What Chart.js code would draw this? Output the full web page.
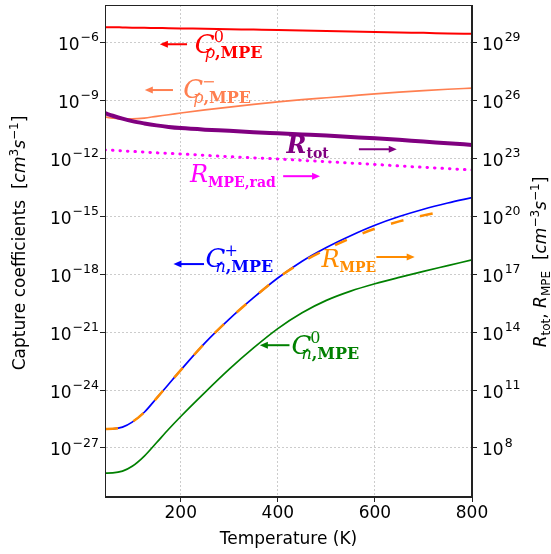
<!DOCTYPE html>
<html>
<head>
<meta charset="utf-8">
<script src="https://cdn.jsdelivr.net/npm/chart.js@4.4.0/dist/chart.umd.min.js"></script>
<style>
  html, body { margin: 0; padding: 0; background: #fff; }
</style>
</head>
<body>
<canvas id="chart" width="551" height="554"></canvas>
<script>
// temperatures (K) and log10 of each curve
const temps = [44, 60, 80, 100, 125, 150, 175, 200, 250, 300, 350, 400, 450, 500, 550, 600, 650, 700, 750, 800];

// left axis, cm^3 s^-1
const cpNeutralExp = [-5.22, -5.22, -5.23, -5.24, -5.25, -5.26, -5.27, -5.28, -5.30, -5.32, -5.34, -5.36, -5.39, -5.41, -5.44, -5.46, -5.49, -5.51, -5.54, -5.56];
const cpMinusExp = [-9.86, -9.92, -9.96, -9.96, -9.92, -9.83, -9.75, -9.66, -9.50, -9.35, -9.21, -9.08, -8.97, -8.87, -8.77, -8.67, -8.58, -8.50, -8.43, -8.37];
const cnPlusExp = [-26.02, -26.01, -25.92, -25.66, -25.15, -24.43, -23.70, -22.97, -21.56, -20.33, -19.22, -18.20, -17.33, -16.62, -16.01, -15.47, -15.02, -14.64, -14.32, -14.04];
const cnNeutralExp = [-28.30, -28.29, -28.20, -27.95, -27.42, -26.73, -26.03, -25.37, -24.12, -22.92, -21.82, -20.82, -20.00, -19.36, -18.88, -18.50, -18.17, -17.86, -17.56, -17.26];

// right axis, cm^-3 s^-1
const rTotExp = [25.33, 25.20, 25.05, 24.92, 24.80, 24.70, 24.62, 24.56, 24.48, 24.42, 24.35, 24.29, 24.23, 24.17, 24.10, 24.03, 23.95, 23.86, 23.78, 23.69];
const rRadExp = [23.43, 23.41, 23.38, 23.35, 23.32, 23.28, 23.25, 23.22, 23.15, 23.08, 23.02, 22.96, 22.89, 22.82, 22.75, 22.68, 22.60, 22.53, 22.46, 22.39];
const rMpeExp = [8.98, 8.99, 9.08, 9.34, 9.85, 10.57, 11.30, 12.03, 13.44, 14.67, 15.78, 16.80, 17.62, 18.28, 18.86, 19.35, 19.73, 20.04, 20.30, null];

const xTicks = [200, 400, 600, 800];
const leftTickExps = [-27, -24, -21, -18, -15, -12, -9, -6];
const rightTickExps = [8, 11, 14, 17, 20, 23, 26, 29];

const SANS = '"DejaVu Sans"';
const SERIF = '"DejaVu Serif"';

function pts(exps) {
    return temps.map((t, i) => ({ x: t, y: exps[i] === null ? null : Math.pow(10, exps[i]) }));
}

// curve labels: text anchor (T, left-axis exponent) and arrow tail -> head
const notes = [
    { color: "#ff0000", t: 229, e: -6.57, nuc: "C", sup: "0", sub: [["p", "i"], [",MPE", "b"]],
      arrow: [213, -6.10, 157, -6.10] },
    { color: "#ff7f50", t: 205, e: -8.90, nuc: "C", sup: "\u2212", sub: [["p", "i"], [",MPE", "b"]],
      arrow: [184, -8.47, 126, -8.47] },
    { color: "#800080", t: 418, e: -11.75, nuc: "R", bold: true, sub: [["tot", "b"]],
      arrow: [567, -11.53, 645, -11.53] },
    { color: "#ff00ff", t: 219, e: -13.22, nuc: "R", sub: [["MPE,rad", "b"]],
      arrow: [411, -12.93, 487, -12.93] },
    { color: "#0000ff", t: 251, e: -17.62, nuc: "C", sup: "+", sub: [["n", "i"], [",MPE", "b"]],
      arrow: [248, -17.48, 185, -17.48] },
    { color: "#ff8c00", t: 490, e: -17.62, nuc: "R", sub: [["MPE", "b"]],
      arrow: [603, -17.11, 682, -17.11] },
    { color: "#008000", t: 428, e: -22.11, nuc: "C", sup: "0", sub: [["n", "i"], [",MPE", "b"]],
      arrow: [424, -21.68, 363, -21.68] }
];

function supStr(n) {
    return String(n).replace("-", "\u2212");
}

function drawPow(ctx, exp, x, y, align) {
    ctx.font = "17px " + SANS;
    const wb = ctx.measureText("10").width;
    ctx.font = "12.5px " + SANS;
    const ex = supStr(exp);
    const we = ctx.measureText(ex).width;
    const x0 = align === "right" ? x - wb - we - 1 : x;
    ctx.fillStyle = "#000";
    ctx.textAlign = "left";
    ctx.textBaseline = "alphabetic";
    ctx.font = "17px " + SANS;
    ctx.fillText("10", x0, y + 7.5);
    ctx.font = "12.5px " + SANS;
    ctx.fillText(ex, x0 + wb + 1, y - 1);
}

// rich text along a line: parts = [text, font, dy]
function drawRich(ctx, parts, cx, cy, rot) {
    let w = 0;
    parts.forEach(p => { ctx.font = p[1]; w += ctx.measureText(p[0]).width; });
    ctx.save();
    ctx.translate(cx, cy);
    ctx.rotate(rot);
    ctx.textAlign = "left";
    ctx.textBaseline = "alphabetic";
    ctx.fillStyle = "#000";
    let x = -w / 2;
    parts.forEach(p => {
        ctx.font = p[1];
        ctx.fillText(p[0], x, p[2]);
        x += ctx.measureText(p[0]).width;
    });
    ctx.restore();
}

function arrow(ctx, x1, y1, x2, y2, color) {
    const dir = Math.sign(x2 - x1);
    ctx.strokeStyle = color;
    ctx.fillStyle = color;
    ctx.lineWidth = 2;
    ctx.beginPath();
    ctx.moveTo(x1, y1);
    ctx.lineTo(x2 - dir * 6, y2);
    ctx.stroke();
    ctx.beginPath();
    ctx.moveTo(x2, y2);
    ctx.lineTo(x2 - dir * 8, y2 - 3.5);
    ctx.lineTo(x2 - dir * 8, y2 + 3.5);
    ctx.closePath();
    ctx.fill();
}

const decorPlugin = {
    id: "decor",
    afterDraw(chart) {
        const ctx = chart.ctx;
        const xs = chart.scales.x, yl = chart.scales.y, yr = chart.scales.y1;
        const a = chart.chartArea;

        ctx.save();
        ctx.strokeStyle = "#222";
        ctx.lineWidth = 1;
        ctx.strokeRect(a.left + 0.5, a.top + 0.5, a.right - a.left - 1, a.bottom - a.top - 1);

        yl.ticks.forEach(t => drawPow(ctx, Math.round(Math.log10(t.value)), 99, yl.getPixelForValue(t.value), "right"));
        yr.ticks.forEach(t => drawPow(ctx, Math.round(Math.log10(t.value)), 482, yr.getPixelForValue(t.value), "left"));

        const it = "italic 17px " + SANS, up = "17px " + SANS, sm = "12px " + SANS;
        drawRich(ctx, [["Temperature (K)", up, 0]], (a.left + a.right) / 2, 544, 0);
        drawRich(ctx, [["Capture coefficients  [", up, 0], ["cm", it, 0], ["3", sm, -7],
            ["s", it, 0], ["\u22121", sm, -7], ["]", up, 0]], 25, 243, -Math.PI / 2);
        drawRich(ctx, [["R", it, 0], ["tot", sm, 3.5], [", ", up, 0], ["R", it, 0], ["MPE", sm, 3.5],
            ["  [", up, 0], ["cm", it, 0], ["\u22123", sm, -7], ["s", it, 0], ["\u22121", sm, -7], ["]", up, 0]],
            546, 262, -Math.PI / 2);

        notes.forEach(n => {
            const x = xs.getPixelForValue(n.t);
            const y = yl.getPixelForValue(Math.pow(10, n.e));
            const isC = n.nuc === "C";
            ctx.fillStyle = n.color;
            ctx.textAlign = "left";
            ctx.textBaseline = "alphabetic";
            ctx.font = (n.bold ? "italic bold 24px " : isC ? "italic 26px " : "italic 24px ") + SERIF;
            ctx.fillText(n.nuc, x, y);
            const wn = ctx.measureText(n.nuc).width;
            const subSize = isC ? 16 : 14;
            if (n.sup) {
                ctx.font = "16px " + SERIF;
                ctx.fillText(n.sup, x + wn - 1, y - 11);
            }
            let sx = isC ? x + 10 : x + wn;
            n.sub.forEach(s => {
                ctx.font = (s[1] === "i" ? "italic " : "bold ") + subSize + "px " + SERIF;
                ctx.fillText(s[0], sx, y + 5);
                sx += ctx.measureText(s[0]).width;
            });
            const ar = n.arrow;
            arrow(ctx, xs.getPixelForValue(ar[0]), yl.getPixelForValue(Math.pow(10, ar[1])),
                xs.getPixelForValue(ar[2]), yl.getPixelForValue(Math.pow(10, ar[3])), n.color);
        });
        ctx.restore();
    }
};

const gridStyle = {
    color: "#cccccc",
    lineWidth: 1,
    tickColor: "#222",
    tickLength: 5,
    tickWidth: 1,
    tickBorderDash: []
};

new Chart(document.getElementById("chart"), {
    type: "line",
    data: {
        datasets: [
            { label: "R_MPE", data: pts(rMpeExp), yAxisID: "y1", borderColor: "#ff8c00", borderWidth: 2.5,
              borderDash: [13, 17], order: 0 },
            { label: "R_tot", data: pts(rTotExp), yAxisID: "y1", borderColor: "#800080", borderWidth: 4, order: 1 },
            { label: "C_n+", data: pts(cnPlusExp), yAxisID: "y", borderColor: "#0000ff", borderWidth: 1.7, order: 2 },
            { label: "R_rad", data: pts(rRadExp), yAxisID: "y1", borderColor: "#ff00ff", borderWidth: 3,
              borderDash: [0.5, 7], borderCapStyle: "round", order: 3 },
            { label: "C_n0", data: pts(cnNeutralExp), yAxisID: "y", borderColor: "#008000", borderWidth: 1.7, order: 4 },
            { label: "C_p-", data: pts(cpMinusExp), yAxisID: "y", borderColor: "#ff7f50", borderWidth: 1.7, order: 5 },
            { label: "C_p0", data: pts(cpNeutralExp), yAxisID: "y", borderColor: "#ff0000", borderWidth: 2, order: 6 }
        ]
    },
    options: {
        responsive: false,
        animation: false,
        devicePixelRatio: 1,
        layout: { padding: { top: 5, left: 0, right: 0, bottom: 0 } },
        elements: {
            point: { radius: 0 },
            line: { cubicInterpolationMode: "monotone", fill: false }
        },
        plugins: { legend: { display: false }, tooltip: { enabled: false } },
        scales: {
            x: {
                type: "linear",
                min: 44,
                max: 800,
                afterBuildTicks: s => { s.ticks = xTicks.map(v => ({ value: v })); },
                afterFit: s => { s.height = 57; },
                ticks: { color: "#000", font: { family: "DejaVu Sans", size: 17 }, padding: 1, maxRotation: 0, autoSkip: false },
                grid: gridStyle,
                border: { display: true, color: "#222", dash: [2, 2] }
            },
            y: {
                type: "logarithmic",
                position: "left",
                min: Math.pow(10, -29.538),
                max: Math.pow(10, -4.068),
                afterBuildTicks: s => { s.ticks = leftTickExps.map(e => ({ value: Math.pow(10, e) })); },
                afterFit: s => { s.width = 105; },
                ticks: { display: false },
                grid: gridStyle,
                border: { display: true, color: "#222", dash: [2, 2] }
            },
            y1: {
                type: "logarithmic",
                position: "right",
                min: Math.pow(10, 5.462),
                max: Math.pow(10, 30.932),
                afterBuildTicks: s => { s.ticks = rightTickExps.map(e => ({ value: Math.pow(10, e) })); },
                afterFit: s => { s.width = 79; },
                ticks: { display: false },
                grid: Object.assign({}, gridStyle, { drawOnChartArea: false }),
                border: { display: true, color: "#222" }
            }
        }
    },
    plugins: [decorPlugin]
});
</script>
</body>
</html>
